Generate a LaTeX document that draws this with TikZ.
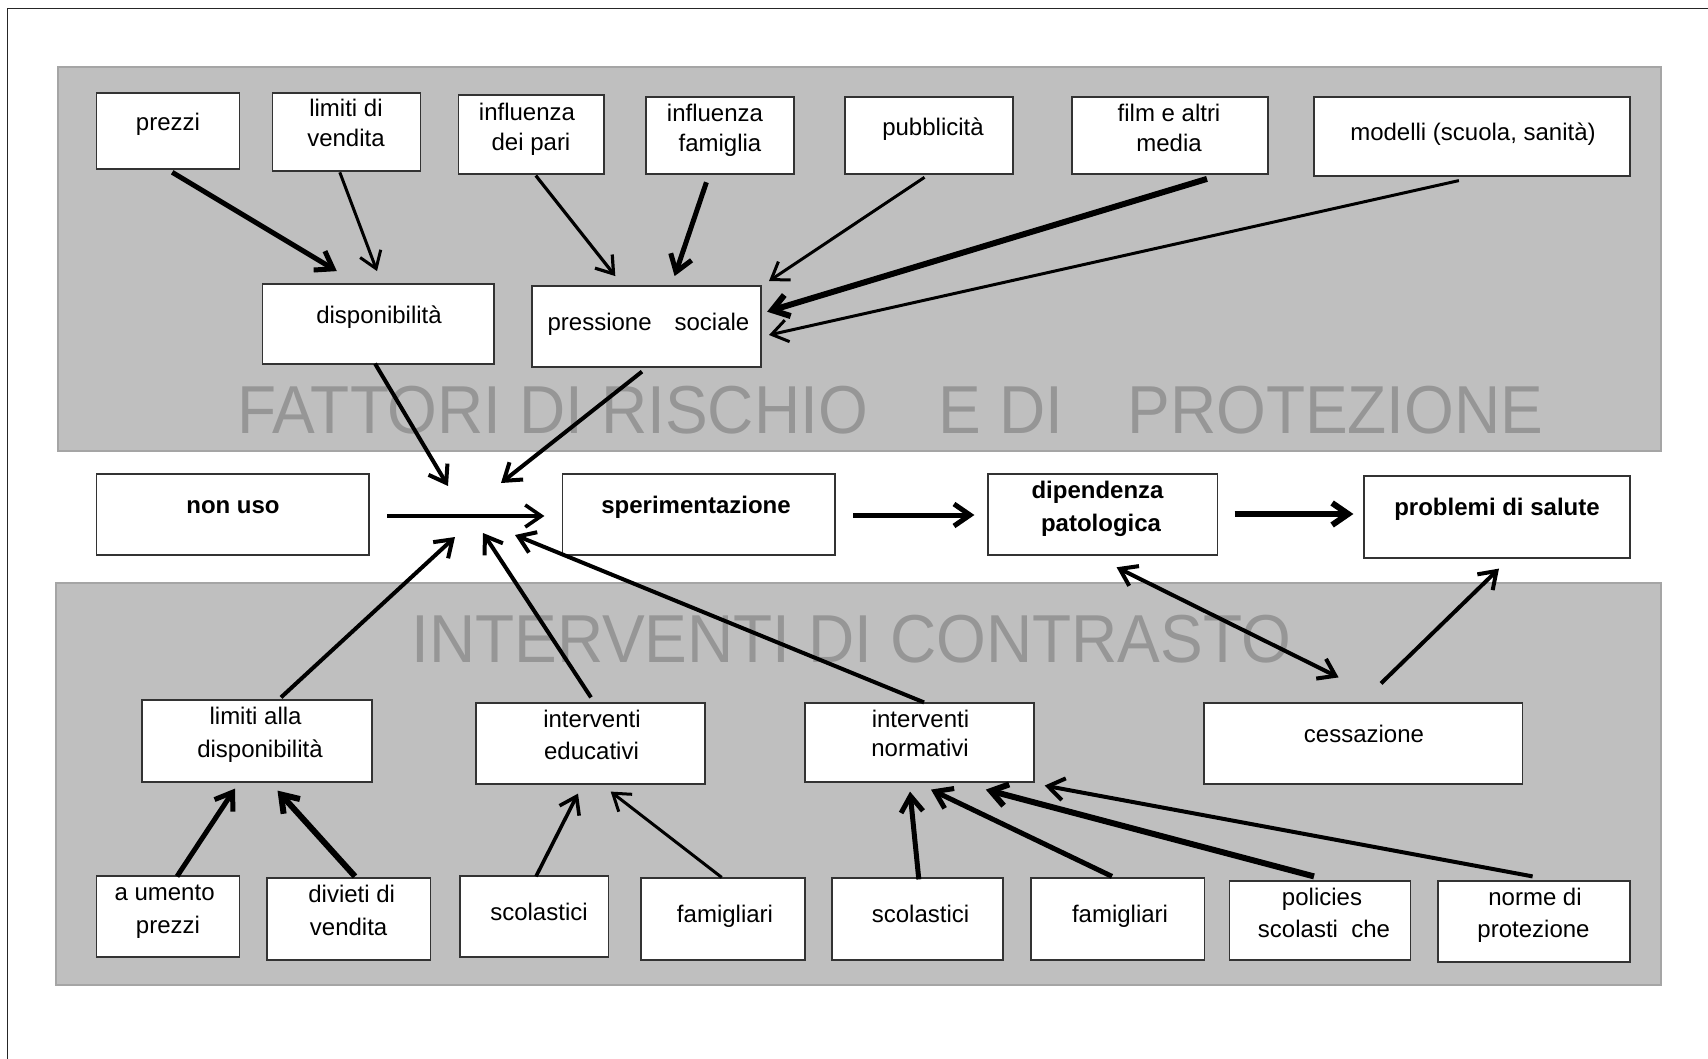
\documentclass[tikz,border=0pt]{standalone}
\usepackage{fontspec}
\setmainfont{Liberation Sans}
\usetikzlibrary{arrows.meta,calc,fit}
\definecolor{panelfill}{RGB}{191,191,191}
\definecolor{paneldraw}{RGB}{165,165,165}
\definecolor{wmark}{RGB}{150,150,150}
\begin{document}
\begin{tikzpicture}[x=0.5pt,y=-0.5pt,
  panel/.style={fill=panelfill,draw=paneldraw,line width=0.6pt},
  box/.style={draw=black!80,fill=white,line width=0.6pt,inner sep=0pt},
  txt/.style={font=\fontsize{12}{15}\selectfont,inner sep=0pt,anchor=base},
  btxt/.style={font=\fontsize{12}{15}\selectfont\bfseries,inner sep=0pt,anchor=base},
  wm/.style={font=\fontsize{32}{38}\selectfont,text=wmark,inner sep=0pt,anchor=base west},
  arr/.style={-{Straight Barb[length=8pt,width=11pt]}},
  darr/.style={{Straight Barb[length=8pt,width=11pt]}-{Straight Barb[length=8pt,width=11pt]}}]
\useasboundingbox (0,0) rectangle (1708,1059);
% page frame
\draw[line width=0.6pt,black!85] (7.7,1059) -- (7.7,8.3) -- (1708,8.3);
% panels
\node[panel,inner sep=0pt,fit={(58,67) (1661,451)}] (ptop) {};
\node[panel,inner sep=0pt,fit={(56,583) (1661,985)}] (pbot) {};
% watermarks
\node[wm] (wm1) at (237,433) {\scalebox{1}[1.06]{FATTORI DI RISCHIO}};
\node[wm] (wm2) at (938.5,433) {\scalebox{1}[1.06]{E DI}};
\node[wm] (wm3) at (1127,433) {\scalebox{1}[1.06]{PROTEZIONE}};
\node[wm] (wm4) at (411,662) {\scalebox{1}[1.06]{INTERVENTI DI CONTRASTO}};
% top boxes
\node[box,fit={(96.4,93) (239.6,169)}] (prezzi) {};
\node[box,fit={(272.5,93) (420.2,171)}] (limven) {};
\node[box,fit={(458.5,95) (604,174)}] (pari) {};
\node[box,fit={(646,97) (794,174)}] (fam) {};
\node[box,fit={(845,97) (1013,174)}] (pubb) {};
\node[box,fit={(1072,97) (1268,174)}] (film) {};
\node[box,fit={(1314,97) (1630,176)}] (modelli) {};
\node[box,fit={(262.5,284) (494,364)}] (disp) {};
\node[box,fit={(532,286) (761,367)}] (press) {};
% middle boxes
\node[box,fit={(96.4,474) (369,555)}] (nonuso) {};
\node[box,fit={(562.6,474) (835,555)}] (sper) {};
\node[box,fit={(988,474) (1217.6,555)}] (dip) {};
\node[box,fit={(1364,476) (1630,558)}] (prob) {};
% lower boxes
\node[box,fit={(142,700) (372,782)}] (limdisp) {};
\node[box,fit={(476,703) (705,784)}] (educ) {};
\node[box,fit={(805,703) (1034,782)}] (norm) {};
\node[box,fit={(1204,703) (1522.6,784)}] (cess) {};
\node[box,fit={(96.4,876) (239.6,957)}] (aum) {};
\node[box,fit={(267,878) (430.5,960)}] (div) {};
\node[box,fit={(460,876) (608.4,957)}] (scolA) {};
\node[box,fit={(641,878) (805,960)}] (famA) {};
\node[box,fit={(832,878) (1003,960)}] (scolB) {};
\node[box,fit={(1031,878) (1204.4,960)}] (famB) {};
\node[box,fit={(1229.7,881) (1410.5,960)}] (pol) {};
\node[box,fit={(1438,881) (1630,962)}] (norme) {};
% texts
\node[txt] (t-prezzi) at (168,131) {prezzi};
\node[txt] (t-lim1) at (346,117) {limiti di};
\node[txt] (t-lim2) at (346,147) {vendita};
\node[txt] (t-pari1) at (527,121) {influenza};
\node[txt] (t-pari2) at (531,151) {dei pari};
\node[txt] (t-fam1) at (715,122) {influenza};
\node[txt] (t-fam2) at (720,152) {famiglia};
\node[txt] (t-pubb) at (933,136) {pubblicità};
\node[txt] (t-film1) at (1169,122) {film e altri};
\node[txt] (t-film2) at (1169,152) {media};
\node[txt] (t-mod) at (1473,141) {modelli (scuola, sanità)};
\node[txt] (t-disp) at (379,323.5) {disponibilità};
\node[txt] (t-press) at (648.5,330.5) {pressione\hspace{11.5pt}sociale};
\node[btxt] (t-nonuso) at (233,513.5) {non uso};
\node[btxt] (t-sper) at (696,513.5) {sperimentazione};
\node[btxt] (t-dip1) at (1097.5,498) {dipendenza};
\node[btxt] (t-dip2) at (1101,531) {patologica};
\node[btxt] (t-prob) at (1497,515) {problemi di salute};
\node[txt] (t-ld1) at (255.6,724.5) {limiti alla};
\node[txt] (t-ld2) at (260,757.5) {disponibilità};
\node[txt] (t-ed1) at (592,727.5) {interventi};
\node[txt] (t-ed2) at (591.5,759.5) {educativi};
\node[txt] (t-no1) at (920.5,727.5) {interventi};
\node[txt] (t-no2) at (920,756.5) {normativi};
\node[txt] (t-cess) at (1364,742) {cessazione};
\node[txt] (t-aum1) at (164.6,900.5) {a umento};
\node[txt] (t-aum2) at (168,933.5) {prezzi};
\node[txt] (t-div1) at (351.7,902.5) {divieti di};
\node[txt] (t-div2) at (348.6,935.5) {vendita};
\node[txt] (t-scA) at (539,920.5) {scolastici};
\node[txt] (t-faA) at (725,922.5) {famigliari};
\node[txt] (t-scB) at (920.5,922.5) {scolastici};
\node[txt] (t-faB) at (1120,922.5) {famigliari};
\node[txt] (t-pol1) at (1322,905.5) {policies};
\node[txt] (t-pol2) at (1324,937.5) {scolasti\ \ che};
\node[txt] (t-nor1) at (1535,905.5) {norme di};
\node[txt] (t-nor2) at (1533.5,937.5) {protezione};
% convergence points
\coordinate (c1) at (448,486);
\coordinate (c2) at (501,483);
\coordinate (c3) at (455,537);
\coordinate (c4) at (483,533);
\coordinate (c5) at (515,535);
% top arrows
\draw[arr,line width=2.5pt] ($(prezzi.south)+(4.2,2.7)$) -- ($(disp.north)+(-41.45,-12.3)$);
\draw[arr,line width=1.5pt] ($(limven.south)+(-6.55,0.7)$) -- ($(disp.north)+(-1.25,-12.3)$);
\draw[arr,line width=1.6pt] ($(pari.south)+(4.55,1)$) -- ($(press.north)+(-31.2,-9.3)$);
\draw[arr,line width=2.5pt] ($(fam.south)+(-13.6,7.7)$) -- ($(press.north)+(28.1,-9.3)$);
\draw[arr,line width=1.5pt] ($(pubb.south)+(-4.5,2.7)$) -- ($(press.north east)+(7.4,-4.3)$);
\draw[arr,line width=3pt] ($(film.south)+(37,4.3)$) -- ($(press.east)+(5.5,-14.8)$);
\draw[arr,line width=1.5pt] ($(modelli.south)+(-13.1,4)$) -- ($(press.east)+(7.4,8.5)$);
% middle arrows
\draw[arr,line width=2pt] ($(disp.south)+(-3.25,-1)$) -- (c1);
\draw[arr,line width=2pt] ($(press.south)+(-4.5,4)$) -- (c2);
\draw[arr,line width=1.8pt] ($(nonuso.east)+(17.5,1.5)$) -- ($(sper.west)+(-17.6,1.5)$);
\draw[arr,line width=2.5pt] ($(sper.east)+(17.6,0.5)$) -- ($(dip.west)+(-13,0.5)$);
\draw[arr,line width=3pt] ($(dip.east)+(16.4,-0.5)$) -- ($(prob.west)+(-10,-3)$);
\draw[arr,line width=2pt] ($(limdisp.north)+(24,-2)$) -- (c3);
\draw[arr,line width=2pt] ($(educ.north)+(0.5,-5)$) -- (c4);
\draw[arr,line width=2pt] ($(norm.north)+(4.5,0)$) -- (c5);
\draw[darr,line width=2pt] ($(dip.south)+(13.8,11.7)$) -- ($(cess.north)+(-24.7,-25)$);
\draw[arr,line width=2pt] ($(cess.north)+(17.7,-19)$) -- ($(prob.south)+(2,10)$);
% lower arrows
\draw[arr,line width=2.5pt] ($(aum.north)+(9,1)$) -- ($(limdisp.south)+(-22,6)$);
\draw[arr,line width=3pt] ($(div.north)+(6.25,-1)$) -- ($(limdisp.south)+(20.5,8)$);
\draw[arr,line width=1.8pt] ($(scolA.north)+(1.8,1)$) -- ($(educ.south)+(-12.5,9)$);
\draw[arr,line width=1.5pt] ($(famA.north)+(-1.3,0)$) -- ($(educ.south)+(20.2,7)$);
\draw[arr,line width=2.5pt] ($(scolB.north)+(1.3,2)$) -- ($(norm.south)+(-9.5,9)$);
\draw[arr,line width=2.5pt] ($(famB.north)+(-5.7,-1)$) -- ($(norm.south)+(11.5,7)$);
\draw[arr,line width=3pt] ($(pol.north)+(-6.1,-4)$) -- ($(norm.south)+(66.3,7)$);
\draw[arr,line width=2pt] ($(norme.north)+(-1.4,-4)$) -- ($(norm.south east)+(10,3)$);
\end{tikzpicture}
\end{document}
